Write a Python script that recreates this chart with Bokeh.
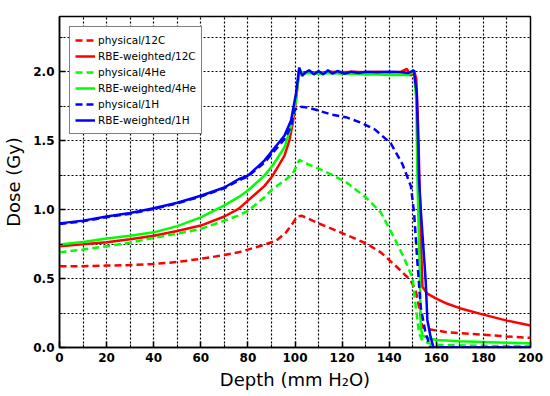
from bokeh.plotting import figure
from bokeh.models import FixedTicker, PrintfTickFormatter, Legend, LegendItem, Range1d
from bokeh.embed import file_html
from bokeh.resources import INLINE

# ---- data (depth in mm H2O, dose in Gy) ----
x_phys_c = [0, 10, 20, 30, 40, 50, 60, 70, 76, 80, 86, 92, 96, 99, 101, 103, 110, 120, 130, 136.4,
            143.5, 149.2, 151.3, 152.7, 154.1, 156.2, 164.7, 178.8, 190, 200]
y_phys_c = [0.59, 0.59, 0.594, 0.598, 0.606, 0.62, 0.643, 0.67, 0.69, 0.71, 0.74, 0.775, 0.83, 0.9, 0.95,
            0.955, 0.9, 0.83, 0.756, 0.69, 0.58, 0.485, 0.41, 0.29, 0.147, 0.135, 0.11, 0.094, 0.08, 0.07]

x_rbe_c = [0, 10, 20, 30, 40, 50, 60, 70, 76, 80, 87, 90.5, 95.5, 97.6, 99, 100.4, 101.8, 103, 106, 110,
           115, 120, 125, 130, 135, 140, 145, 147.5, 149, 150.5, 151.5, 152.3, 153, 153.6, 154.1, 156.2,
           160, 164.7, 170, 178.8, 190, 200]
y_rbe_c = [0.734, 0.748, 0.763, 0.785, 0.81, 0.845, 0.884, 0.95, 1.005, 1.065, 1.17, 1.246, 1.39, 1.5,
           1.62, 1.79, 2.01, 1.99, 2.0, 1.99, 2.0, 1.995, 2.0, 1.995, 2.0, 1.995, 2.0, 2.02, 1.97, 2.01,
           1.95, 1.6, 1.1, 0.7, 0.44, 0.39, 0.355, 0.317, 0.285, 0.244, 0.195, 0.16]

x_phys_he = [0, 10, 20, 30, 40, 50, 60, 70, 76, 80, 87, 90.5, 95.5, 99, 100.5, 101.8, 105.4, 112.4, 121.6,
             130, 136.4, 142, 146.3, 150, 151.3, 152.7, 154.1, 157, 160, 180, 200]
y_phys_he = [0.69, 0.71, 0.734, 0.76, 0.795, 0.825, 0.86, 0.92, 0.957, 0.99, 1.09, 1.15, 1.21, 1.26, 1.31,
             1.36, 1.33, 1.28, 1.2, 1.09, 0.98, 0.8, 0.65, 0.5, 0.29, 0.1, 0.05, 0.03, 0.02, 0.012, 0.01]

x_rbe_he = [0, 10, 20, 30, 40, 50, 60, 70, 76, 80, 87, 90.5, 95.5, 98.3, 100.4, 101.8, 103, 106, 110, 115,
            120, 125, 130, 135, 140, 145, 148, 150.5, 151.5, 152, 152.9, 153.4, 154.1, 157.6, 160, 170,
            180, 190, 200]
y_rbe_he = [0.746, 0.765, 0.79, 0.81, 0.835, 0.88, 0.944, 1.03, 1.09, 1.138, 1.246, 1.32, 1.45, 1.6, 1.79,
            2.02, 1.985, 1.99, 1.985, 1.99, 1.985, 1.985, 1.98, 1.98, 1.975, 1.975, 1.975, 2.0, 1.8, 1.21,
            0.6, 0.15, 0.087, 0.063, 0.055, 0.045, 0.04, 0.035, 0.03]

x_phys_h = [0, 10, 20, 30, 40, 50, 60, 70, 76, 80, 87, 90.5, 95.5, 98.3, 99.7, 101.8, 105.4, 109.6, 115.3,
            121.6, 128, 134, 140.7, 145.6, 149.2, 150.6, 152, 153.4, 155.5, 157.6, 160, 200]
y_phys_h = [0.895, 0.915, 0.945, 0.97, 1.005, 1.045, 1.095, 1.155, 1.21, 1.24, 1.34, 1.41, 1.51, 1.6, 1.72,
            1.746, 1.74, 1.72, 1.69, 1.67, 1.63, 1.58, 1.48, 1.33, 1.17, 0.97, 0.61, 0.29, 0.1, 0.0, 0.0, 0.0]

x_rbe_h = [0, 10, 20, 30, 40, 50, 60, 70, 76, 80, 87, 90.5, 95.5, 98.3, 100.4, 101.8, 103, 104.5, 106, 108,
           110, 112, 114, 116, 118, 121, 124, 127, 130, 135, 140, 145, 148, 150.5, 151.7, 152.7, 153.6,
           154.5, 155.5, 156.2, 157.6, 158.8, 160, 200]
y_rbe_h = [0.9, 0.92, 0.95, 0.975, 1.01, 1.05, 1.1, 1.16, 1.22, 1.246, 1.355, 1.43, 1.536, 1.645, 1.84,
           2.03, 1.97, 1.995, 2.01, 1.98, 2.005, 1.98, 2.01, 1.985, 2.005, 1.985, 2.0, 1.99, 2.0, 1.995,
           2.0, 1.995, 1.99, 2.01, 1.84, 1.21, 0.95, 0.73, 0.48, 0.2, 0.075, 0.0, 0.0, 0.0]

series_labels = ["physical/12C", "RBE-weighted/12C", "physical/4He",
                 "RBE-weighted/4He", "physical/1H", "RBE-weighted/1H"]

x_major = [0, 20, 40, 60, 80, 100, 120, 140, 160, 180, 200]
x_minor = [10, 30, 50, 70, 90, 110, 130, 150, 170, 190]
y_major = [0.0, 0.5, 1.0, 1.5, 2.0]
y_minor = [0.25, 0.75, 1.25, 1.75, 2.25]

RED = "#ff0000"
GREEN = "#00ff00"
BLUE = "#0000ff"

p = figure(width=550, height=396, output_backend="svg", toolbar_location=None,
           x_range=Range1d(0, 200), y_range=Range1d(0, 2.4),
           min_border_left=58, min_border_right=20, min_border_top=16, min_border_bottom=49)
p.background_fill_color = "white"
p.border_fill_color = "white"
p.outline_line_color = "black"
p.outline_line_width = 1.5

# grid: dotted at every minor and major position
p.xgrid.ticker = FixedTicker(ticks=sorted(x_major + x_minor))
p.ygrid.ticker = FixedTicker(ticks=sorted(y_major + y_minor))
for g in (p.xgrid, p.ygrid):
    g.grid_line_color = "black"
    g.grid_line_dash = "2 2"
    g.grid_line_width = 1.2

p.xaxis.ticker = FixedTicker(ticks=x_major, minor_ticks=x_minor)
p.yaxis.ticker = FixedTicker(ticks=y_major, minor_ticks=y_minor)
p.yaxis.formatter = PrintfTickFormatter(format="%.1f")

for ax in (p.xaxis, p.yaxis):
    ax.axis_line_width = 1.5
    ax.axis_line_color = "black"
    ax.major_tick_in = 6
    ax.major_tick_out = 0
    ax.minor_tick_in = 3
    ax.minor_tick_out = 0
    ax.major_tick_line_width = 1.5
    ax.major_label_text_font = "DejaVu Sans"
    ax.major_label_text_font_style = "bold"
    ax.major_label_text_font_size = "12px"
    ax.major_label_text_color = "black"
    ax.axis_label_text_font = "DejaVu Sans"
    ax.axis_label_text_font_style = "normal"
    ax.axis_label_text_font_size = "18px"
    ax.axis_label_text_color = "black"

p.xaxis.major_label_standoff = 5
p.yaxis.major_label_standoff = 5
p.xaxis.axis_label_standoff = 4
p.yaxis.axis_label_standoff = 6
p.xaxis.axis_label = "Depth (mm H₂O)"
p.yaxis.axis_label = "Dose (Gy)"

specs = [
    (x_phys_c, y_phys_c, RED, "7 4"),
    (x_rbe_c, y_rbe_c, RED, "solid"),
    (x_phys_he, y_phys_he, GREEN, "7 4"),
    (x_rbe_he, y_rbe_he, GREEN, "solid"),
    (x_phys_h, y_phys_h, BLUE, "7 4"),
    (x_rbe_h, y_rbe_h, BLUE, "solid"),
]
items = []
for (xs, ys, col, dash), lab in zip(specs, series_labels):
    r = p.line(xs, ys, line_color=col, line_width=2.5, line_dash=dash)
    items.append(LegendItem(label=lab, renderers=[r]))

legend = Legend(items=items, location="top_left")
legend.margin = 10
legend.padding = 5
legend.spacing = 0
legend.label_height = 16
legend.glyph_height = 16
legend.glyph_width = 20
legend.label_standoff = 3
legend.label_text_font = "DejaVu Sans"
legend.label_text_font_size = "10.5px"
legend.label_text_color = "black"
legend.border_line_color = "black"
legend.border_line_width = 1
legend.background_fill_color = "white"
legend.background_fill_alpha = 1.0
p.add_layout(legend)

open("out.html", "w").write(file_html(p, INLINE))
